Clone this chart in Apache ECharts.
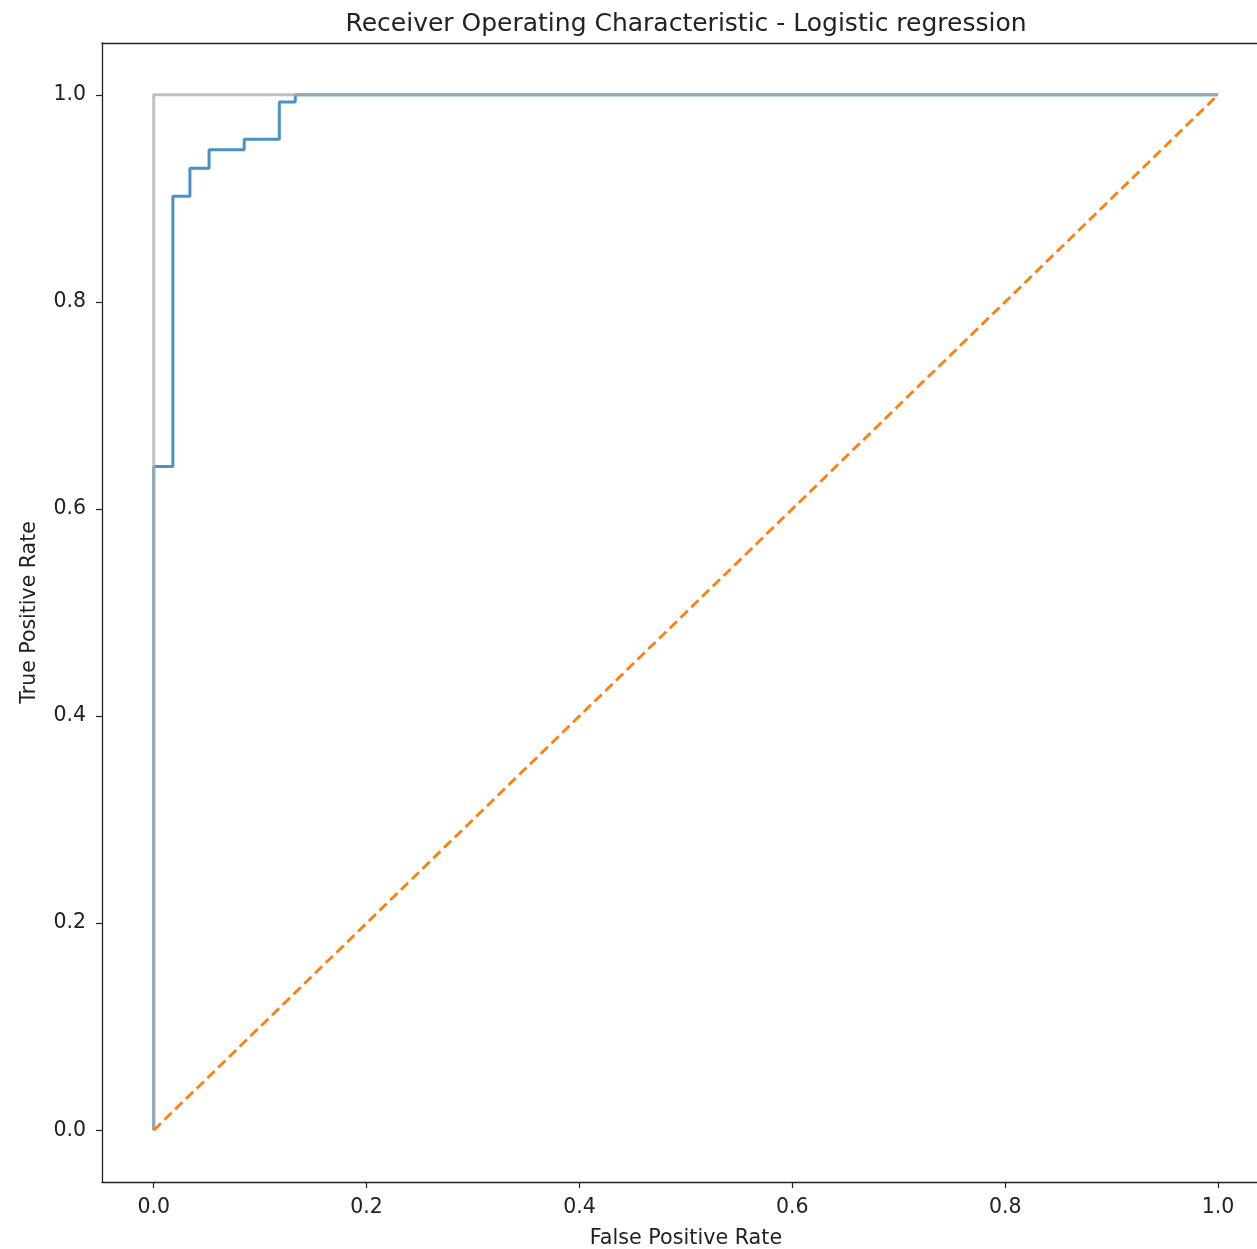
<!DOCTYPE html>
<html>
<head>
<meta charset="utf-8">
<script src="https://cdn.jsdelivr.net/npm/echarts@6/dist/echarts.min.js"></script>
<style>html,body{margin:0;padding:0;background:#fff;}#c{width:1257px;height:1249px;}</style>
</head>
<body>
<div id="c"></div>
<script>
// ROC curve (Logistic regression)
var fpr = [0, 0, 0.018, 0.018, 0.034, 0.034, 0.052, 0.052, 0.085, 0.085, 0.118, 0.118, 0.133, 0.133, 1];
var tpr = [0, 0.641, 0.641, 0.902, 0.902, 0.929, 0.929, 0.947, 0.947, 0.957, 0.957, 0.993, 0.993, 1, 1];
// perfect classifier reference
var perfectX = [0, 0, 1];
var perfectY = [0, 1, 1];
// random-chance diagonal
var chanceX = [0, 1];
var chanceY = [0, 1];
var tickValues = [0, 0.2, 0.4, 0.6, 0.8, 1.0];

function zip(a, b) { return a.map(function (v, i) { return [v, b[i]]; }); }

var font = 'DejaVu Sans';
var spine = {show: true, onZero: false, lineStyle: {color: '#222', width: 1.3}};
var chart = echarts.init(document.getElementById('c'), null, {renderer: 'canvas'});
chart.setOption({
  animation: false,
  backgroundColor: '#fff',
  title: {
    text: 'Receiver Operating Characteristic - Logistic regression',
    left: 681, top: 7, textAlign: 'center',
    textStyle: {fontFamily: font, fontSize: 25, fontWeight: 'normal', color: '#222'}
  },
  grid: {left: 102, top: 43, right: 0, height: 1139, show: false, outerBoundsMode: 'none', containLabel: false},
  xAxis: [{
    type: 'value', min: -0.0486, max: 1.0366, position: 'bottom',
    name: 'False Positive Rate', nameLocation: 'middle', nameGap: 46,
    nameTextStyle: {fontFamily: font, fontSize: 20.7, color: '#222', padding: [0, 0, 0, 13]},
    axisLine: spine,
    splitLine: {show: false},
    axisTick: {show: true, length: 6, lineStyle: {color: '#222', width: 1.2}, customValues: tickValues},
    axisLabel: {customValues: tickValues, fontFamily: font, fontSize: 20.5, color: '#222', margin: 15,
      formatter: function (v) { return v.toFixed(1); }}
  }, {
    type: 'value', min: -0.0486, max: 1.0366, position: 'top',
    axisLine: spine, axisTick: {show: false}, axisLabel: {show: false}, splitLine: {show: false}
  }],
  yAxis: {
    type: 'value', min: -0.05, max: 1.05,
    name: 'True Positive Rate', nameLocation: 'middle', nameGap: 62,
    nameTextStyle: {fontFamily: font, fontSize: 20.5, color: '#222'},
    axisLine: spine,
    splitLine: {show: false},
    axisTick: {show: true, length: 6, lineStyle: {color: '#222', width: 1.2}, customValues: tickValues},
    axisLabel: {customValues: tickValues, fontFamily: font, fontSize: 20.5, color: '#222', margin: 16,
      formatter: function (v) { return v.toFixed(1); }}
  },
  series: [
    {type: 'line', data: zip(fpr, tpr), showSymbol: false, symbol: 'none',
      lineStyle: {color: '#4a92c6', width: 3}},
    {type: 'line', data: zip(perfectX, perfectY), showSymbol: false, symbol: 'none',
      lineStyle: {color: '#adadad', width: 3, opacity: 0.77}},
    {type: 'line', data: zip(chanceX, chanceY), showSymbol: false, symbol: 'none',
      lineStyle: {color: '#ff7f0e', width: 2.8, type: [10, 5]}}
  ]
});
</script>
</body>
</html>
